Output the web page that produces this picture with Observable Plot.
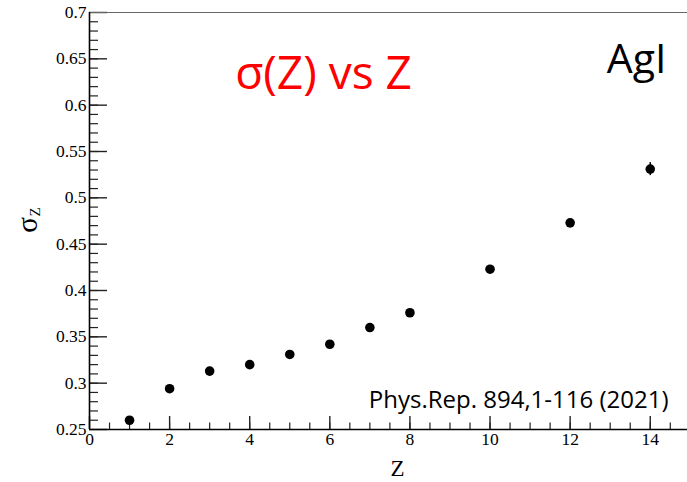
<!DOCTYPE html>
<html><head><meta charset="utf-8">
<script src="https://cdn.jsdelivr.net/npm/d3@7"></script>
<script src="https://cdn.jsdelivr.net/npm/@observablehq/plot@0.6"></script>
<style>body{margin:0;background:#fff}</style>
</head><body><div id="chart"></div>
<script>
// Data
const Z = [1, 2, 3, 4, 5, 6, 7, 8, 10, 12, 14];
const sigmaZ = [0.260, 0.294, 0.313, 0.320, 0.331, 0.342, 0.360, 0.376, 0.423, 0.473, 0.531];
const sigmaErr = [0.001, 0.001, 0.001, 0.001, 0.001, 0.001, 0.001, 0.001, 0.002, 0.003, 0.007];

// Tick labels
const xTicks = [0, 2, 4, 6, 8, 10, 12, 14];
const yTicks = [0.25, 0.3, 0.35, 0.4, 0.45, 0.5, 0.55, 0.6, 0.65, 0.7];
const xMinor = d3.range(1, 30).map(i => i * 0.5);
const yMinor = d3.range(26, 70).map(i => i / 100);

// Texts
const title = "σ(Z) vs Z";
const system = "AgI";
const reference = "Phys.Rep. 894,1-116 (2021)";
const xLabel = "Z";
const yLabelMain = "σ";
const yLabelSub = "Z";

const data = Z.map((z, i) => ({z, s: sigmaZ[i], e: sigmaErr[i]}));

const W = 687, H = 482, mL = 89, mT = 12, mB = 53, mR = 0;
const fw = W - mL - mR, fh = H - mT - mB;
const serif = "'Liberation Serif', 'Times New Roman', serif";
const sans = "'Open Sans', 'Noto Sans', sans-serif";

const chart = Plot.plot({
  width: W, height: H,
  marginLeft: mL, marginRight: mR, marginTop: mT, marginBottom: mB,
  style: {fontFamily: serif, fontSize: "17.5px", background: "#fff", color: "#000"},
  x: {domain: [0, 14.93], ticks: xTicks, tickFormat: d => String(d), tickSize: 0, tickPadding: 3, label: null},
  y: {domain: [0.25, 0.7], ticks: yTicks, tickFormat: d => String(+d.toFixed(2)), tickSize: 0, tickPadding: 3, label: null},
  marks: [
    // minor / major ticks (inward)
    Plot.tickY(yMinor, {y: d => d, insetRight: fw - 9, stroke: "#222", strokeWidth: 1.2}),
    Plot.tickY(yTicks, {y: d => d, insetRight: fw - 18, stroke: "#222", strokeWidth: 1.4}),
    Plot.tickX(xMinor, {x: d => d, insetTop: fh - 6.5, stroke: "#222", strokeWidth: 1.2}),
    Plot.tickX(xTicks, {x: d => d, insetTop: fh - 13, stroke: "#222", strokeWidth: 1.4}),
    // frame lines
    Plot.ruleY([0.7], {stroke: "#666", strokeWidth: 1.2}),
    Plot.ruleY([0.25], {stroke: "#000", strokeWidth: 1.6}),
    Plot.ruleX([0], {stroke: "#000", strokeWidth: 1.6}),
    // error bars
    Plot.ruleX(data, {x: "z", y1: d => d.s - d.e, y2: d => d.s + d.e, stroke: "#000", strokeWidth: 1.5}),
    // points
    Plot.dot(data, {x: "z", y: "s", r: 4.8, fill: "#000", stroke: "none"}),
    // annotations
    Plot.text([title], {text: d => d, frameAnchor: "top-left", dx: 234, dy: 62, fill: "#ff0000",
      fontSize: 46, fontFamily: sans, textAnchor: "middle", lineAnchor: "middle"}),
    Plot.text([system], {text: d => d, frameAnchor: "top-left", dx: 577, dy: 47, fill: "#000",
      fontSize: 41, fontFamily: sans, textAnchor: "end", lineAnchor: "middle"}),
    Plot.text([reference], {text: d => d, frameAnchor: "top-left", dx: 579, dy: 388, fill: "#000",
      fontSize: 24, fontFamily: sans, textAnchor: "end", lineAnchor: "middle"}),
    // axis labels
    Plot.text([xLabel], {text: d => d, frameAnchor: "bottom", dx: 9, dy: 39, fill: "#000",
      fontSize: 23, fontFamily: serif, textAnchor: "middle", lineAnchor: "middle"}),
    Plot.text([yLabelMain], {text: d => d, frameAnchor: "left", dx: -62, dy: 4, rotate: -90, fill: "#000",
      fontSize: 29, fontFamily: serif, textAnchor: "middle", lineAnchor: "middle"}),
    Plot.text([yLabelSub], {text: d => d, frameAnchor: "left", dx: -54, dy: -9, rotate: -90, fill: "#000",
      fontSize: 15, fontFamily: serif, textAnchor: "middle", lineAnchor: "middle"})
  ]
});
document.getElementById("chart").appendChild(chart);
</script>
</body></html>
